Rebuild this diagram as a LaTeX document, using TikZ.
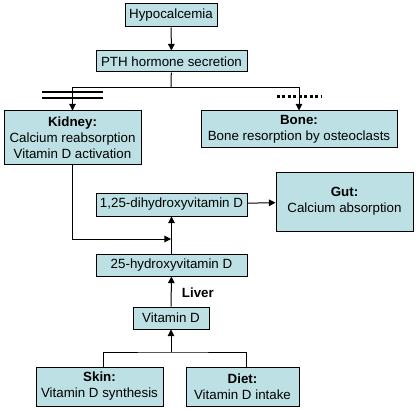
\documentclass[tikz,border=0pt]{standalone}
\usepackage{fontspec}
\setmainfont{Liberation Sans}
\usetikzlibrary{arrows.meta}

\definecolor{boxfill}{RGB}{188,224,227}
\tikzset{every picture/.style={line width=0.75pt}}
\tikzset{
	stepbox/.style={draw, fill=boxfill, inner sep=0pt, align=center, font=\fontsize{10}{12}\selectfont},
	flow/.style={-{Triangle[length=5pt,width=5pt]}}
}

\begin{document}
\begin{tikzpicture}[x=0.75pt,y=0.75pt,yscale=-1,xscale=1]
	\useasboundingbox (0,0) rectangle (418,410);

	% Boxes
	\node [stepbox, minimum width=69pt, minimum height=17.25pt] (hypo) at (171,15.5) {Hypocalcemia};
	\node [stepbox, minimum width=113.25pt, minimum height=15.75pt] (pth) at (171.5,61.5) {PTH hormone secretion};
	\node [stepbox, minimum width=102.75pt, minimum height=39.75pt] (kidney) at (72.5,137.5) {\textbf{Kidney:}\\Calcium reabsorption\\Vitamin D activation};
	\node [stepbox, minimum width=147pt, minimum height=27.75pt] (bone) at (299,129.5) {\textbf{Bone:}\\Bone resorption by osteoclasts};
	\node [stepbox, minimum width=113.25pt, minimum height=17.25pt] (dihyd) at (171.5,204.5) {1,25-dihydroxyvitamin D};
	\node [stepbox, minimum width=102.75pt, minimum height=44.25pt] (gut) at (344.5,201.5) {\textbf{Gut:}\\Calcium absorption};
	\node [stepbox, minimum width=113.25pt, minimum height=16.5pt] (hyd) at (171.5,265) {25-hydroxyvitamin D};
	\node [stepbox, minimum width=57pt, minimum height=16.5pt] (vitd) at (171,318) {Vitamin D};
	\node [stepbox, minimum width=95.25pt, minimum height=29.25pt] (skin) at (99.5,386.5) {\textbf{Skin:}\\Vitamin D synthesis};
	\node [stepbox, minimum width=84.75pt, minimum height=29.25pt] (diet) at (242.5,386.5) {\textbf{Diet:}\\Vitamin D intake};

	% Label
	\node [anchor=west, font=\fontsize{10}{12}\selectfont\bfseries] (liver) at (177,293) {Liver};

	% Connectors
	\coordinate (split) at (171,87.5);
	\coordinate (join) at (171,239);
	\coordinate (merge) at (171,352);
	\draw [flow] (hypo) -- (pth);
	\draw (pth) -- (split);
	\draw [flow] (split) -| (kidney.north);
	\draw [flow] (split) -| (bone.north);
	\draw [flow] (kidney.south) |- (join);
	\draw [flow] (hyd) -- (dihyd);
	\draw [flow] (vitd) -- (hyd);
	\draw [flow] (dihyd) -- (gut);
	\draw ([xshift=3pt]skin.north) |- (merge) -| ([xshift=3pt]diet.north);
	\draw [flow] (merge) -- (vitd);

	% Bars
	\draw [line width=2pt] (42,92) -- (103,92);
	\draw [line width=2pt] (42,98) -- (103,98);
	\draw [line width=2.2pt, dash pattern={on 2.2pt off 1.9pt}] (277,96.5) -- (321,96.5);

\end{tikzpicture}
\end{document}
